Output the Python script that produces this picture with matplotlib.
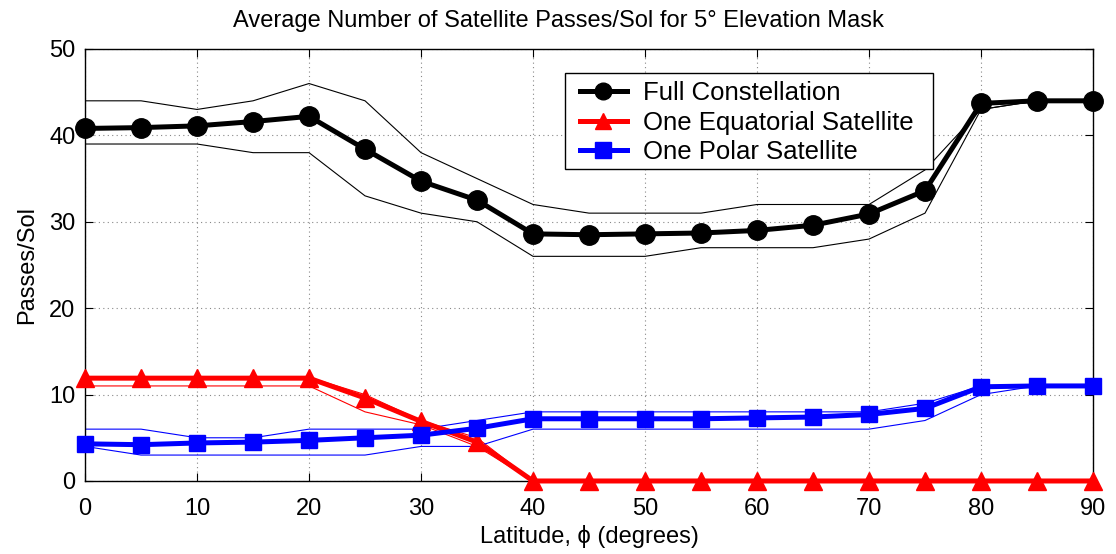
import matplotlib
matplotlib.use("Agg")
import matplotlib.pyplot as plt
from matplotlib.patches import Rectangle

plt.rcParams['font.family'] = ['Liberation Sans', 'DejaVu Sans']

latitude = [0, 5, 10, 15, 20, 25, 30, 35, 40, 45, 50, 55, 60, 65, 70, 75, 80, 85, 90]

full_mean = [40.8, 40.9, 41.1, 41.6, 42.2, 38.4, 34.7, 32.5, 28.6, 28.5, 28.6, 28.7, 29.0, 29.6, 30.9, 33.6, 43.7, 44.0, 44.0]
full_max = [44, 44, 43, 44, 46, 44, 38, 35, 32, 31, 31, 31, 32, 32, 32, 36, 43, 44, 44]
full_min = [39, 39, 39, 38, 38, 33, 31, 30, 26, 26, 26, 27, 27, 27, 28, 31, 43, 44, 44]

equ_mean = [11.9, 11.9, 11.9, 11.9, 11.9, 9.6, 6.9, 4.5, 0, 0, 0, 0, 0, 0, 0, 0, 0, 0, 0]
equ_max = [12, 12, 12, 12, 12, 10, 7, 5, 0, 0, 0, 0, 0, 0, 0, 0, 0, 0, 0]
equ_min = [11, 11, 11, 11, 11, 8, 6.5, 4, 0, 0, 0, 0, 0, 0, 0, 0, 0, 0, 0]

pol_mean = [4.3, 4.2, 4.4, 4.5, 4.7, 5.0, 5.3, 6.1, 7.2, 7.2, 7.2, 7.2, 7.3, 7.4, 7.7, 8.4, 10.9, 11.0, 11.0]
pol_max = [6, 6, 5, 5, 6, 6, 6, 7, 8, 8, 8, 8, 8, 8, 8, 9, 11, 11, 11]
pol_min = [4, 3, 3, 3, 3, 3, 4, 4, 6, 6, 6, 6, 6, 6, 6, 7, 10, 11, 11]

xticks = [0, 10, 20, 30, 40, 50, 60, 70, 80, 90]
yticks = [0, 10, 20, 30, 40, 50]

fig = plt.figure(figsize=(11.16, 5.54), dpi=100)
ax = fig.add_axes([0.0762, 0.1318, 0.9032, 0.7798])

# thin min/max envelopes
ax.plot(latitude, full_max, color='black', lw=0.8)
ax.plot(latitude, full_min, color='black', lw=0.8)
ax.plot(latitude, equ_max, color='red', lw=0.8)
ax.plot(latitude, equ_min, color='red', lw=0.8)
ax.plot(latitude, pol_max, color='blue', lw=0.8)
ax.plot(latitude, pol_min, color='blue', lw=0.8)

# mean passes per sol
ax.plot(latitude, full_mean, color='black', lw=3.6, marker='o', ms=14,
        label='Full Constellation', clip_on=False, zorder=5)
ax.plot(latitude, equ_mean, color='red', lw=3.6, marker='^', ms=13,
        label='One Equatorial Satellite', clip_on=False, zorder=5)
ax.plot(latitude, pol_mean, color='blue', lw=3.6, marker='s', ms=11,
        label='One Polar Satellite', clip_on=False, zorder=5)

ax.set_xlim(0, 90)
ax.set_ylim(0, 50)
ax.set_xticks(xticks)
ax.set_yticks(yticks)
ax.tick_params(direction='in', length=6, labelsize=17, top=True, right=True)
ax.tick_params(axis='x', pad=12)
ax.tick_params(axis='y', pad=7)
ax.grid(True, color='#888888', linestyle=(0, (1, 3)), linewidth=0.8)
for s in ax.spines.values():
    s.set_linewidth(1.0)

ax.set_title('Average Number of Satellite Passes/Sol for 5\u00b0 Elevation Mask',
             fontsize=17, pad=16, x=0.47)
ax.set_xlabel('Latitude, \u03d5 (degrees)', fontsize=17, labelpad=4)
ax.set_ylabel('Passes/Sol', fontsize=17, labelpad=8)

# legend box drawn separately so the inner padding can differ per side
ax.add_patch(Rectangle((0.476, 0.722), 0.365, 0.222, transform=ax.transAxes,
                       facecolor='white', edgecolor='black', linewidth=1.0,
                       zorder=6, clip_on=False))
leg = ax.legend(loc='upper left', bbox_to_anchor=(0.491, 0.925), fontsize=18.5,
                frameon=False, handlelength=1.83, borderpad=0, labelspacing=0.2,
                handletextpad=0.62, borderaxespad=0)
leg.set_zorder(7)
for h in leg.legend_handles:
    h.set_markersize(12)

fig.savefig('out.png', dpi=100)
